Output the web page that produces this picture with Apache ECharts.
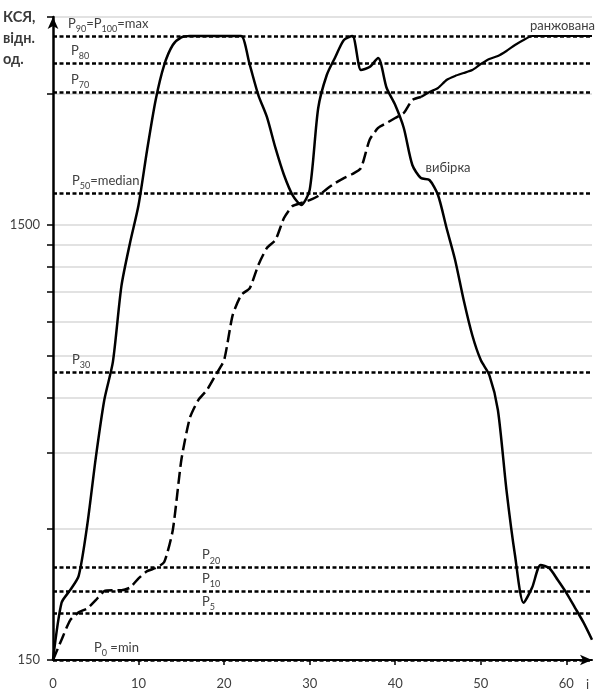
<!DOCTYPE html>
<html><head><meta charset="utf-8">
<script src="https://cdn.jsdelivr.net/npm/echarts@6/dist/echarts.min.js"></script>
<style>html,body{margin:0;padding:0;background:#fff}#c{width:595px;height:693px}</style>
</head><body><div id="c"></div>
<script>
// x axis (sample index i)
const xTickValues = [10, 20, 30, 40, 50, 60];
const xLabelValues = [0, 10, 20, 30, 40, 50, 60];
const xMax = 63;
// y axis (log scale)
const yGridValues = [150, 300, 450, 600, 750, 900, 1050, 1200, 1350, 1500, 3000, 4500];
const yLabelValues = [150, 1500];
const yMin = 150, yMax = 4500;

// sample ("вибірка")
const sample = [150,203,217,234,306,437,594,726,1085,1362,
  1665,2227,2901,3492,3880,4040,4070,4070,4070,4070,
  4070,4070,4070,3492,2978,2652,2251,1951,1755,1665,
  1802,2781,3311,3641,3985,4070,3400,3453,3622,3091,
  2825,2502,2057,1920,1900,1755,1474,1245,1007,837,
  733,677,563,369,261,203,220,248,244,229,
  214,198,183,167];
// ranked sample ("ранжована")
const ranked = [150,167,185,193,197,206,216,217,217,220,
  231,240,244,252,298,432,540,594,626,677,
  733,930,1034,1073,1212,1326,1383,1554,1656,1682,
  1709,1746,1812,1870,1920,1961,2025,2348,2502,2569,
  2638,2709,2901,2947,3026,3091,3225,3294,3346,3400,
  3510,3604,3662,3760,3880,3985,4070,4070,4070,4070,
  4070,4070,4070,4070];
const rankedDashedEnd = 43;

// percentile levels
const pctValues = [4070, 3529, 3026, 1774, 688, 245, 216, 192, 150];
const pctMain = ['P', 'P', 'P', 'P', 'P', 'P', 'P', 'P', 'P'];
const pctSub = ['90', '80', '70', '50', '30', '20', '10', '5', '0'];
const pctTail = ['=P{s|100}=max', '', '', '=median', '', '', '', '', ' =min'];
const pctLabelShift = [13, 16, 16, 17, 17, 147, 147, 147, 39];

const FONT = 'Lato';
const TXT = '#404040';

const chart = echarts.init(document.getElementById('c'), null, {renderer: 'canvas'});

const pctLines = pctValues.map((v, k) => ({
  yAxis: v,
  label: {
    show: true,
    position: 'insideStartTop',
    distance: 2,
    padding: [0, 0, 0, pctLabelShift[k]],
    formatter: '{m|' + pctMain[k] + '}{s|' + pctSub[k] + '}' + (pctTail[k] ? pctTail[k].replace(/^([^{]*)/, '{m|$1}').replace(/\}([^{}]+)$/, '}{m|$1}') : ''),
    rich: {
      m: {fontFamily: FONT, fontSize: 13, color: TXT, lineHeight: 20, verticalAlign: 'middle'},
      s: {fontFamily: FONT, fontSize: 9, color: TXT, lineHeight: 9, verticalAlign: 'bottom'}
    }
  }
}));

const option = {
  animation: false,
  backgroundColor: '#fff',
  grid: {left: 53, right: 3, top: 17, bottom: 33, containLabel: false},
  xAxis: {
    type: 'value', min: 0, max: xMax,
    name: 'i', nameLocation: 'end', nameGap: -6,
    nameTextStyle: {fontFamily: FONT, fontSize: 13, color: TXT, verticalAlign: 'top', padding: [18, 0, 0, 0]},
    axisLine: {show: true, onZero: false, symbol: ['none', 'arrow'], symbolSize: [8, 12], lineStyle: {color: '#000', width: 2}},
    axisTick: {show: true, length: 5, lineStyle: {color: '#000', width: 1.5}, customValues: xTickValues},
    axisLabel: {fontFamily: FONT, fontSize: 13, color: TXT, margin: 17, customValues: xLabelValues},
    splitLine: {show: false}
  },
  yAxis: {
    type: 'log', logBase: 10, min: yMin, max: yMax,
    axisLine: {show: true, symbol: ['none', 'arrow'], symbolSize: [8, 12], lineStyle: {color: '#000', width: 2.5}},
    axisTick: {show: true, length: 6, lineStyle: {color: '#000', width: 1.5}, customValues: yGridValues},
    axisLabel: {fontFamily: FONT, fontSize: 13, color: TXT, margin: 13, customValues: yLabelValues, formatter: v => String(Math.round(v))},
    splitLine: {show: true, lineStyle: {color: '#d9d9d9', width: 1.5}}
  },
  graphic: [{
    type: 'text', left: 3, top: 7,
    style: {text: 'КСЯ,\nвідн.\nод.', fontFamily: FONT, fontSize: 14.5, fontWeight: 'bold', fill: '#3a3a3a', lineHeight: 21}
  }],
  series: [
    {
      name: 'вибірка', type: 'line', data: sample.map((v, i) => [i, v]),
      showSymbol: false, smooth: 0.25,
      lineStyle: {color: '#000', width: 2.5},
      markLine: {
        silent: true, symbol: ['none', 'none'],
        lineStyle: {color: '#000', width: 2.5, type: [4, 2.5]},
        data: pctLines
      },
      markPoint: {
        silent: true, symbol: 'circle', symbolSize: 0,
        data: [{coord: [44, sample[44]], label: {show: true, formatter: 'вибірка', position: [-4, -12], align: 'left', verticalAlign: 'middle', fontFamily: FONT, fontSize: 13, color: TXT}}]
      },
      z: 3
    },
    {
      name: 'ранжована', type: 'line',
      data: ranked.map((v, i) => [i, v]).filter(p => p[0] <= rankedDashedEnd),
      showSymbol: false, smooth: 0.2,
      lineStyle: {color: '#000', width: 2.5, type: [12, 5]},
      z: 3
    },
    {
      name: 'ранжована', type: 'line',
      data: ranked.map((v, i) => [i, v]).filter(p => p[0] >= rankedDashedEnd),
      showSymbol: false, smooth: 0.2,
      lineStyle: {color: '#000', width: 2.2},
      endLabel: {show: true, formatter: 'ранжована', align: 'right', verticalAlign: 'bottom', distance: 0, offset: [3, -4], fontFamily: FONT, fontSize: 13, color: TXT},
      z: 3
    }
  ]
};
chart.setOption(option);
</script>
</body></html>
